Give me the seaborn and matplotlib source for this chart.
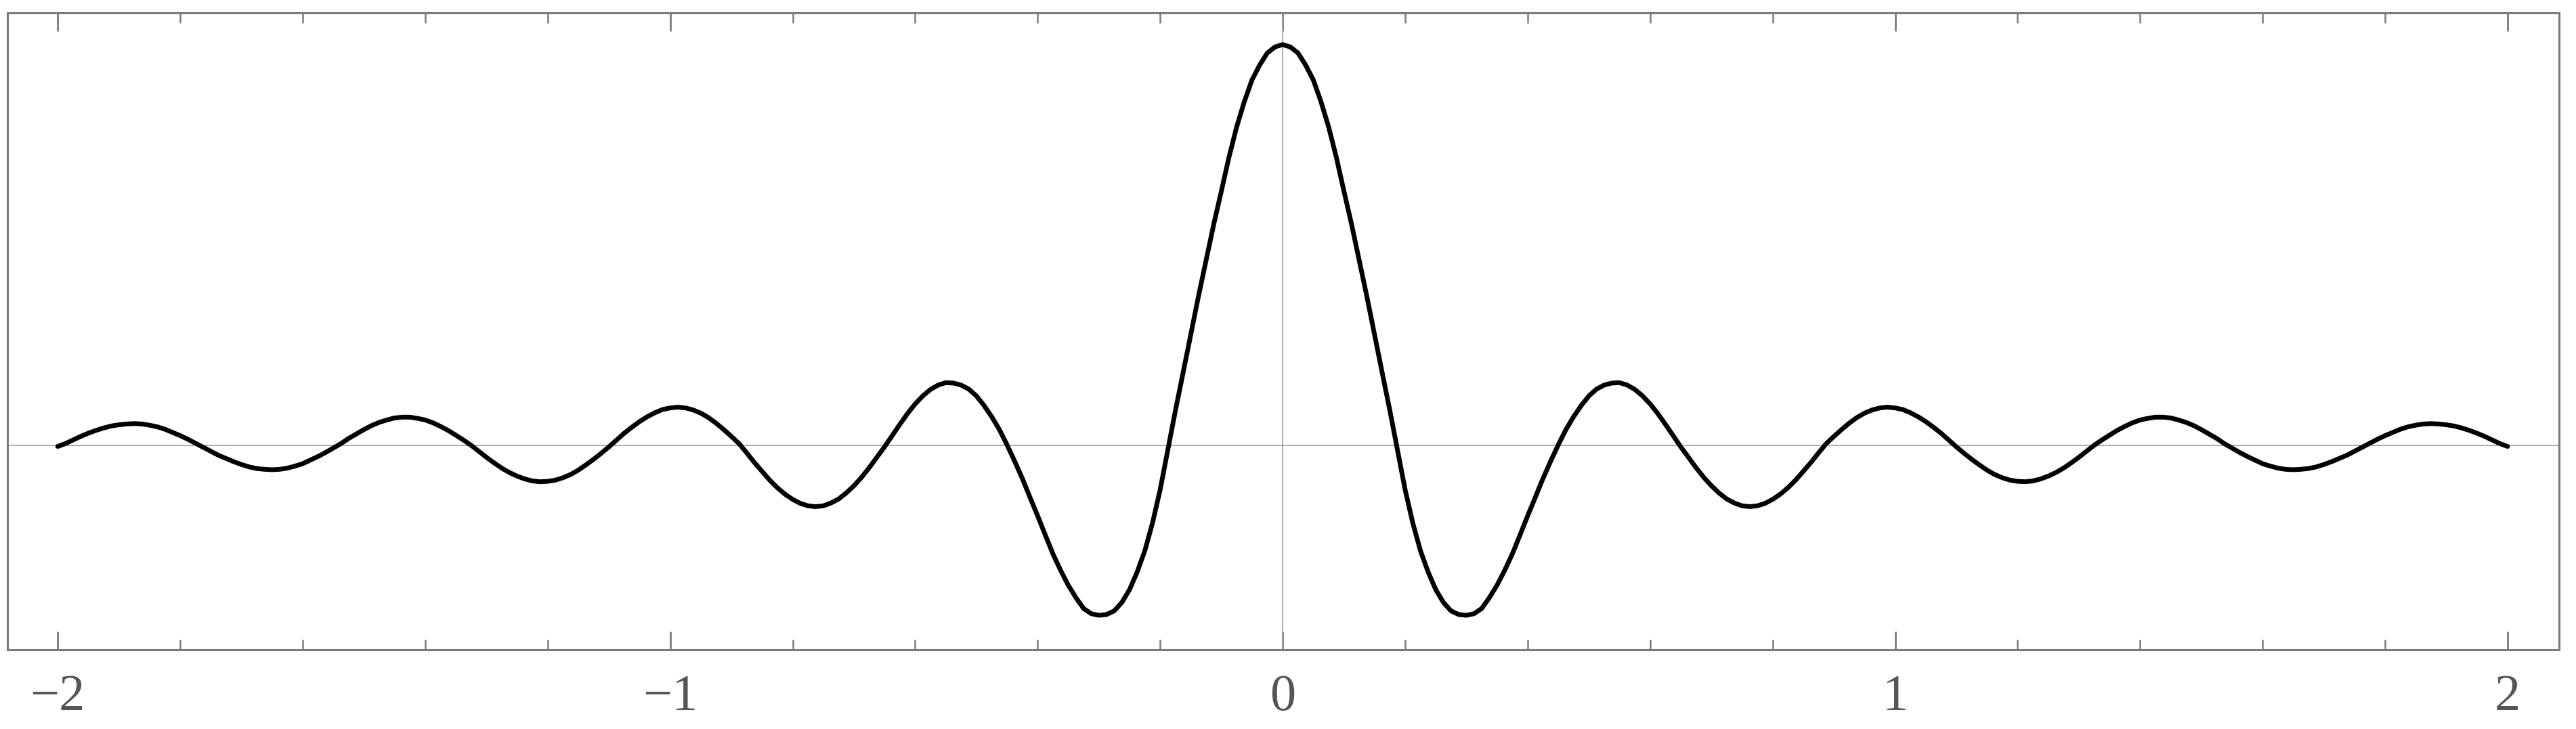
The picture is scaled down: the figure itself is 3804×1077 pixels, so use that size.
import numpy as np
import matplotlib
matplotlib.use("Agg")
import matplotlib.pyplot as plt
from matplotlib.ticker import MultipleLocator
import seaborn as sns

# =========================
# Data read off the reference curve, sampled every 0.0125 on [-2, 2]
# =========================
x_vals = np.round(np.linspace(-2, 2, 321), 4)

# x = -2.0 ... -0.0125
y_left = [
    -0.002,
    0.005, 0.014, 0.023, 0.031, 0.038, 0.044, 0.049, 0.052, 0.054, 0.055,
    0.054, 0.051, 0.047, 0.041, 0.033, 0.025, 0.016, 0.006, -0.004, -0.014,
    -0.024, -0.032, -0.040, -0.047, -0.053, -0.057, -0.059, -0.060, -0.059, -0.056,
    -0.051, -0.045, -0.036, -0.027, -0.017, -0.006, 0.005, 0.018, 0.029, 0.040,
    0.050, 0.058, 0.064, 0.069, 0.071, 0.071, 0.068, 0.064, 0.057, 0.048,
    0.038, 0.026, 0.014, 0.001, -0.014, -0.029, -0.043, -0.056, -0.067, -0.076,
    -0.083, -0.088, -0.090, -0.089, -0.086, -0.080, -0.072, -0.061, -0.048, -0.034,
    -0.019, -0.003, 0.014, 0.031, 0.046, 0.060, 0.072, 0.082, 0.090, 0.094,
    0.096, 0.094, 0.089, 0.081, 0.070, 0.056, 0.040, 0.023, 0.005, -0.018,
    -0.042, -0.064, -0.086, -0.105, -0.121, -0.134, -0.144, -0.150, -0.152, -0.150,
    -0.143, -0.133, -0.118, -0.100, -0.079, -0.055, -0.029, -0.003, 0.025, 0.053,
    0.080, 0.104, 0.124, 0.140, 0.151, 0.157, 0.156, 0.151, 0.141, 0.124,
    0.100, 0.072, 0.040, 0.002, -0.039, -0.082, -0.129, -0.175, -0.223, -0.270,
    -0.311, -0.348, -0.379, -0.406, -0.419, -0.423, -0.421, -0.412, -0.391, -0.359,
    -0.315, -0.262, -0.193, -0.110, -0.011, 0.088, 0.182, 0.277, 0.372, 0.462,
    0.552, 0.635, 0.720, 0.795, 0.858, 0.912, 0.949, 0.979, 0.994,
]
# x = 0.0 ... 2.0
y_right = [
    1.000, 0.994, 0.979, 0.949, 0.912, 0.858, 0.795, 0.720, 0.635, 0.552,
    0.462, 0.372, 0.277, 0.182, 0.088, -0.011, -0.110, -0.193, -0.262, -0.315,
    -0.359, -0.391, -0.412, -0.421, -0.423, -0.419, -0.406, -0.379, -0.348, -0.311,
    -0.270, -0.223, -0.175, -0.129, -0.082, -0.039, 0.002, 0.040, 0.072, 0.100,
    0.124, 0.141, 0.151, 0.156, 0.157, 0.151, 0.140, 0.124, 0.104, 0.080,
    0.053, 0.025, -0.003, -0.029, -0.055, -0.079, -0.100, -0.118, -0.133, -0.143,
    -0.150, -0.152, -0.150, -0.144, -0.134, -0.121, -0.105, -0.086, -0.064, -0.042,
    -0.018, 0.005, 0.023, 0.040, 0.056, 0.070, 0.081, 0.089, 0.094, 0.096,
    0.094, 0.090, 0.082, 0.072, 0.060, 0.046, 0.031, 0.014, -0.003, -0.019,
    -0.034, -0.048, -0.061, -0.072, -0.080, -0.086, -0.089, -0.090, -0.088, -0.083,
    -0.076, -0.067, -0.056, -0.043, -0.029, -0.014, 0.001, 0.014, 0.026, 0.038,
    0.048, 0.057, 0.064, 0.068, 0.071, 0.071, 0.069, 0.064, 0.058, 0.050,
    0.040, 0.029, 0.018, 0.005, -0.006, -0.017, -0.027, -0.036, -0.045, -0.051,
    -0.056, -0.059, -0.060, -0.059, -0.057, -0.053, -0.047, -0.040, -0.032, -0.024,
    -0.014, -0.004, 0.006, 0.016, 0.025, 0.033, 0.041, 0.047, 0.051, 0.054,
    0.055, 0.054, 0.052, 0.049, 0.044, 0.038, 0.031, 0.023, 0.014, 0.005,
    -0.002,
]
y_vals = y_left + y_right

x_ticks = [-2, -1, 0, 1, 2]
x_ticklabels = ["\u22122", "\u22121", "0", "1", "2"]

# =========================
# Plot
# =========================
sns.set_style("white")
plt.rcParams["font.family"] = ["Liberation Serif", "DejaVu Serif"]

fig = plt.figure(figsize=(38.04, 10.77), dpi=100)
ax = fig.add_axes([0.00289, 0.10864, 0.99054, 0.87372])

frame_col = "#7a7a7a"
axis_col = "#a0a0a0"

ax.axhline(0, color=axis_col, linewidth=1.2, zorder=1)
ax.axvline(0, color=axis_col, linewidth=1.2, zorder=1)

sns.lineplot(x=x_vals, y=y_vals, color="black", linewidth=5.0, ax=ax, zorder=3)

ax.set_xlim(-2.082, 2.084)
ax.set_ylim(-0.509, 1.079)

ax.set_xticks(x_ticks)
ax.set_xticklabels(x_ticklabels)
ax.xaxis.set_minor_locator(MultipleLocator(0.2))
ax.set_yticks([])

ax.tick_params(axis="x", which="major", direction="in", length=19.5, width=2.0,
               color=frame_col, top=True, bottom=True, labelsize=55,
               labelcolor="#555555", pad=26)
ax.tick_params(axis="x", which="minor", direction="in", length=10.8, width=1.8,
               color=frame_col, top=True, bottom=True)

for sp in ax.spines.values():
    sp.set_color(frame_col)
    sp.set_linewidth(2.2)
    sp.set_visible(True)

ax.set_xlabel("")
ax.set_ylabel("")

fig.savefig("out.png", dpi=100)
